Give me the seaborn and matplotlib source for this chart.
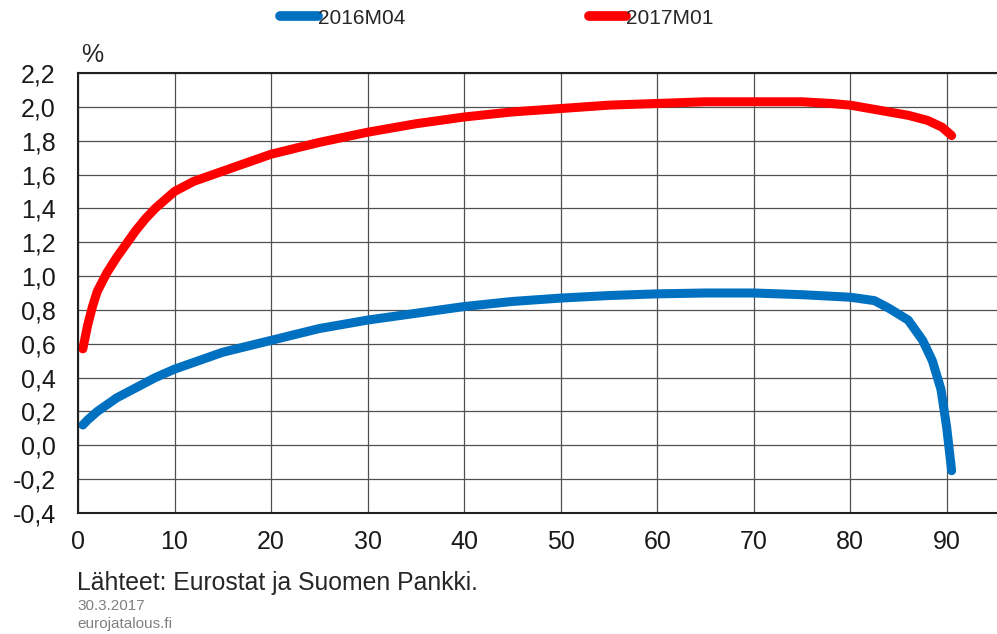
import matplotlib
matplotlib.use("Agg")
import matplotlib.pyplot as plt
import seaborn as sns
import pandas as pd
from matplotlib.ticker import FuncFormatter, MultipleLocator

maturity_red = [0.5, 1, 1.5, 2, 3, 4, 5, 6, 7, 8, 9, 10, 12, 14, 17, 20, 25, 30, 35, 40, 45, 50, 55, 60,
                65, 70, 75, 78, 80, 83, 86, 88, 89.5, 90.5]
yield_2017m01 = [0.57, 0.71, 0.82, 0.91, 1.02, 1.11, 1.19, 1.27, 1.34, 1.40, 1.45, 1.50, 1.56, 1.60, 1.66,
                 1.72, 1.79, 1.85, 1.90, 1.94, 1.97, 1.99, 2.01, 2.02, 2.03, 2.03, 2.03, 2.02, 2.01,
                 1.98, 1.95, 1.92, 1.88, 1.83]

maturity_blue = [0.5, 1, 2, 4, 6, 8, 10, 13, 15, 20, 25, 30, 35, 40, 45, 50, 55, 60, 65, 70,
                 75, 80, 82.5, 84, 86, 87.5, 88.5, 89.4, 90, 90.5]
yield_2016m04 = [0.12, 0.15, 0.20, 0.28, 0.34, 0.40, 0.45, 0.51, 0.55, 0.62, 0.69, 0.74, 0.78,
                 0.82, 0.85, 0.87, 0.885, 0.895, 0.90, 0.90, 0.89, 0.875, 0.855, 0.81, 0.74,
                 0.62, 0.50, 0.33, 0.10, -0.15]

series_names = ["2016M04", "2017M01"]
series_colors = ["#0070C0", "#FF0000"]

df = pd.concat([
    pd.DataFrame({"x": maturity_blue, "y": yield_2016m04, "series": series_names[0]}),
    pd.DataFrame({"x": maturity_red, "y": yield_2017m01, "series": series_names[1]}),
])

sns.set_style("white")
plt.rcParams["font.family"] = ["Liberation Sans", "DejaVu Sans"]

fig = plt.figure(figsize=(9.97, 6.34), dpi=100)
ax = fig.add_axes([78 / 997, 1 - 513 / 634, (997 - 78) / 997, (513 - 73) / 634])

sns.lineplot(data=df, x="x", y="y", hue="series", palette=dict(zip(series_names, series_colors)),
             linewidth=6.5, ax=ax, legend=False, sort=False, solid_capstyle="round",
             solid_joinstyle="round")

ax.set_xlim(0, 95.2)
ax.set_ylim(-0.4, 2.2)
ax.set_xticks(range(0, 100, 10))
ax.yaxis.set_major_locator(MultipleLocator(0.2))
ax.yaxis.set_major_formatter(FuncFormatter(lambda v, p: f"{v:.1f}".replace(".", ",").replace("-0,0", "0,0")))
ax.grid(True, color="#505050", linewidth=0.9)
ax.set_axisbelow(True)
ax.tick_params(axis="both", labelsize=18, length=0, colors="#1a1a1a")
ax.tick_params(axis="x", pad=12)
ax.tick_params(axis="y", pad=16)
ax.set_xlabel("")
ax.set_ylabel("")
for s in ["left", "bottom", "top"]:
    ax.spines[s].set_color("#202020")
    ax.spines[s].set_linewidth(1.5)
ax.spines["right"].set_visible(False)

fig.text(92 / 997, 1 - 55 / 634, "%", fontsize=18, ha="center", va="center")

handles = [plt.Line2D([], [], color=c, linewidth=7, solid_capstyle="round") for c in series_colors]
fig.legend(handles, series_names, loc="center", bbox_to_anchor=(497 / 997, 1 - 18 / 634), ncol=2,
           frameon=False, fontsize=15, handlelength=1.8, handletextpad=0.0, columnspacing=8.8)

fig.text(77 / 997, 1 - 583 / 634, "Lähteet: Eurostat ja Suomen Pankki.", fontsize=17.8, ha="left", va="center")
fig.text(77 / 997, 1 - 606 / 634, "30.3.2017", fontsize=11, color="#808080", ha="left", va="center")
fig.text(77 / 997, 1 - 624 / 634, "eurojatalous.fi", fontsize=11, color="#808080", ha="left", va="center")

fig.savefig("out.png", dpi=100)
